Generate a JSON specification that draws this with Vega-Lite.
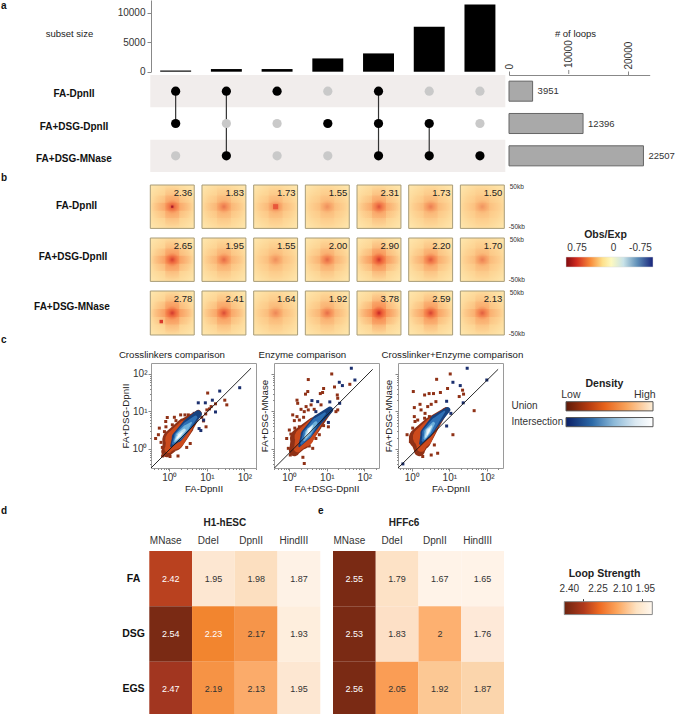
{
"$schema":"https://vega.github.io/schema/vega-lite/v6.json",
"padding":0,
"background":"white",
"bounds":"flush",
"spacing":0,
"columns":8,
"align":"each",
"resolve":{"scale":{"color":"independent","size":"independent","opacity":"independent"}},
"config":{"font":"Liberation Sans","view":{"stroke":null},"concat":{"spacing":0},"axis":{"grid":false,"labelColor":"#333","titleColor":"#222","domainColor":"#888","tickColor":"#888","labelFontSize":10,"titleFontSize":10,"titleFontWeight":"normal","labelOverlap":false,"labelFlush":false}},
"datasets":{
"sets":[{"set":"FA-DpnII"},{"set":"FA+DSG-DpnII"},{"set":"FA+DSG-MNase"}],
"subsets":[{"col":1,"count":200},{"col":2,"count":450},{"col":3,"count":450},{"col":4,"count":2250},{"col":5,"count":3100},{"col":6,"count":7600},{"col":7,"count":11400}],
"upset":[
{"col":1,"set":"FA-DpnII","on":1},{"col":1,"set":"FA+DSG-DpnII","on":1},{"col":1,"set":"FA+DSG-MNase","on":0},
{"col":2,"set":"FA-DpnII","on":1},{"col":2,"set":"FA+DSG-DpnII","on":0},{"col":2,"set":"FA+DSG-MNase","on":1},
{"col":3,"set":"FA-DpnII","on":1},{"col":3,"set":"FA+DSG-DpnII","on":0},{"col":3,"set":"FA+DSG-MNase","on":0},
{"col":4,"set":"FA-DpnII","on":0},{"col":4,"set":"FA+DSG-DpnII","on":1},{"col":4,"set":"FA+DSG-MNase","on":0},
{"col":5,"set":"FA-DpnII","on":1},{"col":5,"set":"FA+DSG-DpnII","on":1},{"col":5,"set":"FA+DSG-MNase","on":1},
{"col":6,"set":"FA-DpnII","on":0},{"col":6,"set":"FA+DSG-DpnII","on":1},{"col":6,"set":"FA+DSG-MNase","on":1},
{"col":7,"set":"FA-DpnII","on":0},{"col":7,"set":"FA+DSG-DpnII","on":0},{"col":7,"set":"FA+DSG-MNase","on":1}],
"loops":[{"set":"FA-DpnII","n":3951},{"set":"FA+DSG-DpnII","n":12396},{"set":"FA+DSG-MNase","n":22507}],
"pileA":[{"col":1,"score":2.36},{"col":2,"score":1.83},{"col":3,"score":1.73},{"col":4,"score":1.55},{"col":5,"score":2.31},{"col":6,"score":1.73},{"col":7,"score":1.50}],
"pileB":[{"col":1,"score":2.65},{"col":2,"score":1.95},{"col":3,"score":1.55},{"col":4,"score":2.00},{"col":5,"score":2.90},{"col":6,"score":2.20},{"col":7,"score":1.70}],
"pileC":[{"col":1,"score":2.78},{"col":2,"score":2.41},{"col":3,"score":1.64},{"col":4,"score":1.92},{"col":5,"score":3.78},{"col":6,"score":2.59},{"col":7,"score":2.13}],
"cloud":[
{"p":1,"level":"L0","o":1,"x":0.85,"y":0.85,"w":0.5},{"p":1,"level":"L0","o":2,"x":1.28,"y":1.74,"w":1.0},{"p":1,"level":"L0","o":3,"x":2.6,"y":3.9,"w":0.8},{"p":1,"level":"L0","o":4,"x":5.9,"y":8.9,"w":0.3},
{"p":1,"level":"L1","o":1,"x":0.95,"y":1.0,"w":0.35},{"p":1,"level":"L1","o":2,"x":1.4,"y":1.75,"w":0.88},{"p":1,"level":"L1","o":3,"x":2.6,"y":3.7,"w":0.68},{"p":1,"level":"L1","o":4,"x":5,"y":7,"w":0.2},
{"p":1,"level":"L2","o":1,"x":1.12,"y":1.2,"w":0.1},{"p":1,"level":"L2","o":2,"x":1.6,"y":2.05,"w":0.48},{"p":1,"level":"L2","o":3,"x":3,"y":4.4,"w":0.48},{"p":1,"level":"L2","o":4,"x":5.8,"y":8.5,"w":0.34},
{"p":1,"level":"L3","o":1,"x":1.25,"y":1.4,"w":0.1},{"p":1,"level":"L3","o":2,"x":1.75,"y":2.2,"w":0.4},{"p":1,"level":"L3","o":3,"x":3,"y":4.2,"w":0.38},{"p":1,"level":"L3","o":4,"x":5,"y":7,"w":0.16},
{"p":1,"level":"L4","o":1,"x":1.4,"y":1.6,"w":0.1},{"p":1,"level":"L4","o":2,"x":1.8,"y":2.3,"w":0.3},{"p":1,"level":"L4","o":3,"x":2.8,"y":3.7,"w":0.26},{"p":1,"level":"L4","o":4,"x":3.8,"y":5,"w":0.08},
{"p":1,"level":"L5","o":1,"x":1.5,"y":1.75,"w":0.08},{"p":1,"level":"L5","o":2,"x":1.85,"y":2.35,"w":0.2},{"p":1,"level":"L5","o":3,"x":2.5,"y":3.2,"w":0.14},
{"p":1,"level":"L6","o":1,"x":1.6,"y":1.9,"w":0.04},{"p":1,"level":"L6","o":2,"x":1.85,"y":2.3,"w":0.11},{"p":1,"level":"L6","o":3,"x":2.2,"y":2.75,"w":0.04},
{"p":2,"level":"L0","o":1,"x":1.36,"y":0.9,"w":0.5},{"p":2,"level":"L0","o":2,"x":2.05,"y":1.9,"w":1.0},{"p":2,"level":"L0","o":3,"x":4.6,"y":4.4,"w":0.7},{"p":2,"level":"L0","o":4,"x":12.4,"y":11,"w":0.22},
{"p":2,"level":"L1","o":1,"x":1.67,"y":1.04,"w":0.35},{"p":2,"level":"L1","o":2,"x":2.5,"y":2.05,"w":0.88},{"p":2,"level":"L1","o":3,"x":4.6,"y":4.4,"w":0.6},{"p":2,"level":"L1","o":4,"x":9.5,"y":8.9,"w":0.15},
{"p":2,"level":"L2","o":1,"x":1.85,"y":1.2,"w":0.1},{"p":2,"level":"L2","o":2,"x":2.8,"y":2.4,"w":0.5},{"p":2,"level":"L2","o":3,"x":5.7,"y":5.9,"w":0.48},{"p":2,"level":"L2","o":4,"x":12,"y":11,"w":0.3},
{"p":2,"level":"L3","o":1,"x":2.1,"y":1.4,"w":0.1},{"p":2,"level":"L3","o":2,"x":3,"y":2.5,"w":0.42},{"p":2,"level":"L3","o":3,"x":5.1,"y":5.4,"w":0.32},{"p":2,"level":"L3","o":4,"x":8.9,"y":8.9,"w":0.1},
{"p":2,"level":"L4","o":1,"x":2.5,"y":1.74,"w":0.1},{"p":2,"level":"L4","o":2,"x":3.2,"y":2.7,"w":0.3},{"p":2,"level":"L4","o":3,"x":5.1,"y":5,"w":0.14},
{"p":2,"level":"L5","o":1,"x":2.7,"y":2.05,"w":0.08},{"p":2,"level":"L5","o":2,"x":3.4,"y":3.2,"w":0.2},{"p":2,"level":"L5","o":3,"x":4.2,"y":4.2,"w":0.06},
{"p":2,"level":"L6","o":1,"x":3.1,"y":2.5,"w":0.04},{"p":2,"level":"L6","o":2,"x":3.5,"y":3.3,"w":0.1},{"p":2,"level":"L6","o":3,"x":3.9,"y":3.9,"w":0.03},
{"p":3,"level":"L0","o":1,"x":1.6,"y":0.9,"w":0.5},{"p":3,"level":"L0","o":2,"x":1.7,"y":1.9,"w":1.05},{"p":3,"level":"L0","o":3,"x":3.3,"y":4.4,"w":0.75},{"p":3,"level":"L0","o":4,"x":8.2,"y":11,"w":0.25},
{"p":3,"level":"L1","o":1,"x":1.77,"y":1.1,"w":0.4},{"p":3,"level":"L1","o":2,"x":1.96,"y":2.05,"w":0.9},{"p":3,"level":"L1","o":3,"x":3.4,"y":4.4,"w":0.62},{"p":3,"level":"L1","o":4,"x":6.6,"y":8.9,"w":0.15},
{"p":3,"level":"L2","o":1,"x":1.7,"y":1.4,"w":0.12},{"p":3,"level":"L2","o":2,"x":2.4,"y":2.6,"w":0.52},{"p":3,"level":"L2","o":3,"x":4.4,"y":5.9,"w":0.5},{"p":3,"level":"L2","o":4,"x":9,"y":11,"w":0.25},
{"p":3,"level":"L3","o":1,"x":1.96,"y":1.67,"w":0.1},{"p":3,"level":"L3","o":2,"x":2.55,"y":2.7,"w":0.44},{"p":3,"level":"L3","o":3,"x":4.2,"y":5.4,"w":0.34},{"p":3,"level":"L3","o":4,"x":7.4,"y":9.9,"w":0.08},
{"p":3,"level":"L4","o":1,"x":2.2,"y":1.9,"w":0.1},{"p":3,"level":"L4","o":2,"x":2.66,"y":2.9,"w":0.3},{"p":3,"level":"L4","o":3,"x":3.8,"y":4.8,"w":0.14},
{"p":3,"level":"L5","o":1,"x":2.35,"y":2.1,"w":0.08},{"p":3,"level":"L5","o":2,"x":2.77,"y":3.1,"w":0.2},{"p":3,"level":"L5","o":3,"x":3.4,"y":4.1,"w":0.06},
{"p":3,"level":"L6","o":1,"x":2.55,"y":2.4,"w":0.04},{"p":3,"level":"L6","o":2,"x":2.83,"y":3.1,"w":0.11},{"p":3,"level":"L6","o":3,"x":3.1,"y":3.6,"w":0.03}],
"diag":[{"p":1,"o":1,"x":0.324,"y":0.311},{"p":1,"o":2,"x":150,"y":142},{"p":2,"o":1,"x":0.4,"y":0.311},{"p":2,"o":2,"x":167,"y":133},{"p":3,"o":1,"x":0.43,"y":0.311},{"p":3,"o":2,"x":200,"y":133}],
"outliers":[
{"p":1,"t":"U","x":10.5,"y":31},{"p":1,"t":"U","x":30,"y":20},{"p":1,"t":"U","x":34,"y":15},{"p":1,"t":"U","x":17,"y":16},{"p":1,"t":"U","x":13,"y":13.5},{"p":1,"t":"U","x":11.7,"y":11.7},{"p":1,"t":"U","x":10,"y":11},{"p":1,"t":"U","x":9.3,"y":8.6},{"p":1,"t":"U","x":7.3,"y":7},{"p":1,"t":"U","x":9.5,"y":3.9},{"p":1,"t":"U","x":8.1,"y":5.6},{"p":1,"t":"U","x":0.43,"y":1.9},{"p":1,"t":"U","x":0.54,"y":3.6},{"p":1,"t":"U","x":0.51,"y":2.4},{"p":1,"t":"U","x":0.88,"y":6.9},{"p":1,"t":"U","x":1.2,"y":4.4},{"p":1,"t":"U","x":0.81,"y":3.9},{"p":1,"t":"U","x":0.74,"y":2.9},{"p":1,"t":"U","x":0.8,"y":5.4},{"p":1,"t":"U","x":2,"y":8.1},{"p":1,"t":"U","x":1.36,"y":7},{"p":1,"t":"U","x":1.5,"y":5.7},{"p":1,"t":"U","x":2.6,"y":8.1},{"p":1,"t":"U","x":3.2,"y":8.1},{"p":1,"t":"U","x":3.6,"y":1.4},{"p":1,"t":"U","x":2.9,"y":1.1},{"p":1,"t":"U","x":1.7,"y":0.65},{"p":1,"t":"U","x":1.04,"y":0.63},{"p":1,"t":"U","x":0.65,"y":1.1},{"p":1,"t":"U","x":0.6,"y":1.5},{"p":1,"t":"U","x":0.66,"y":0.65},
{"p":1,"t":"I","x":22,"y":35},{"p":1,"t":"I","x":75,"y":43},{"p":1,"t":"I","x":5.9,"y":17},{"p":1,"t":"I","x":9.1,"y":17},{"p":1,"t":"I","x":14,"y":20},{"p":1,"t":"I","x":17,"y":9.7},{"p":1,"t":"I","x":8.2,"y":5.9},{"p":1,"t":"I","x":6.2,"y":3.5},{"p":1,"t":"I","x":6.9,"y":3.1},{"p":1,"t":"I","x":4.6,"y":8.9},
{"p":2,"t":"U","x":13.5,"y":100},{"p":2,"t":"U","x":3.2,"y":71},{"p":2,"t":"U","x":8.2,"y":41},{"p":2,"t":"U","x":16,"y":45},{"p":2,"t":"U","x":41,"y":53},{"p":2,"t":"U","x":2.7,"y":29},{"p":2,"t":"U","x":3.1,"y":34},{"p":2,"t":"U","x":6.7,"y":30},{"p":2,"t":"U","x":7.7,"y":32},{"p":2,"t":"U","x":19,"y":27.5},{"p":2,"t":"U","x":19.5,"y":22.5},{"p":2,"t":"U","x":1.6,"y":20},{"p":2,"t":"U","x":1.67,"y":16.5},{"p":2,"t":"U","x":2.8,"y":13.5},{"p":2,"t":"U","x":3.8,"y":15},{"p":2,"t":"U","x":7,"y":15},{"p":2,"t":"U","x":4.6,"y":11.4},{"p":2,"t":"U","x":2.05,"y":11.4},{"p":2,"t":"U","x":2.5,"y":9.9},{"p":2,"t":"U","x":3.2,"y":11},{"p":2,"t":"U","x":1.23,"y":8.1},{"p":2,"t":"U","x":1.6,"y":7.3},{"p":2,"t":"U","x":1.36,"y":5.7},{"p":2,"t":"U","x":1.85,"y":5.9},{"p":2,"t":"U","x":2.4,"y":7},{"p":2,"t":"U","x":17.5,"y":9.9},{"p":2,"t":"U","x":19.5,"y":11},{"p":2,"t":"U","x":11,"y":3.9},{"p":2,"t":"U","x":8.2,"y":4.2},{"p":2,"t":"U","x":5.1,"y":1.9},{"p":2,"t":"U","x":6.3,"y":2.4},{"p":2,"t":"U","x":1,"y":3.2},{"p":2,"t":"U","x":1.1,"y":2.5},{"p":2,"t":"U","x":0.85,"y":1.9},{"p":2,"t":"U","x":0.94,"y":1.04},{"p":2,"t":"U","x":1.06,"y":0.69},{"p":2,"t":"U","x":2.3,"y":0.6},{"p":2,"t":"U","x":2.5,"y":0.41},{"p":2,"t":"U","x":4.2,"y":1.04},{"p":2,"t":"U","x":3.4,"y":1.2},{"p":2,"t":"U","x":1.85,"y":3.9},{"p":2,"t":"U","x":1.4,"y":3.6},
{"p":2,"t":"I","x":45,"y":142},{"p":2,"t":"I","x":56,"y":69},{"p":2,"t":"I","x":21.5,"y":60},{"p":2,"t":"I","x":26,"y":49},{"p":2,"t":"I","x":22,"y":16.5},{"p":2,"t":"I","x":12,"y":18},{"p":2,"t":"I","x":4,"y":19.5},{"p":2,"t":"I","x":5.7,"y":18.3},{"p":2,"t":"I","x":5.1,"y":9.9},{"p":2,"t":"I","x":11,"y":5.1},
{"p":3,"t":"U","x":10.6,"y":100},{"p":3,"t":"U","x":4.6,"y":72},{"p":3,"t":"U","x":9,"y":41},{"p":3,"t":"U","x":1.1,"y":34},{"p":3,"t":"U","x":22.6,"y":37},{"p":3,"t":"U","x":24,"y":29},{"p":3,"t":"U","x":18.4,"y":25},{"p":3,"t":"U","x":2.2,"y":27.5},{"p":3,"t":"U","x":2.9,"y":30},{"p":3,"t":"U","x":3.8,"y":30},{"p":3,"t":"U","x":5.8,"y":32},{"p":3,"t":"U","x":1.66,"y":15.5},{"p":3,"t":"U","x":1.17,"y":12.7},{"p":3,"t":"U","x":4.4,"y":18.3},{"p":3,"t":"U","x":3.3,"y":15.5},{"p":3,"t":"U","x":2.66,"y":13.5},{"p":3,"t":"U","x":1.77,"y":11},{"p":3,"t":"U","x":2.26,"y":8.9},{"p":3,"t":"U","x":1.22,"y":5.4},{"p":3,"t":"U","x":1.44,"y":5.9},{"p":3,"t":"U","x":1.17,"y":7.3},{"p":3,"t":"U","x":2.2,"y":6.6},{"p":3,"t":"U","x":2.95,"y":7.3},{"p":3,"t":"U","x":1.06,"y":3.6},{"p":3,"t":"U","x":0.75,"y":2.4},{"p":3,"t":"U","x":0.92,"y":1.57},{"p":3,"t":"U","x":46,"y":10.5},{"p":3,"t":"U","x":12.5,"y":2.4},{"p":3,"t":"U","x":4.9,"y":0.77},{"p":3,"t":"U","x":4,"y":1.28},{"p":3,"t":"U","x":3.3,"y":0.69},{"p":3,"t":"U","x":1.96,"y":0.63},{"p":3,"t":"U","x":7.4,"y":11},
{"p":3,"t":"I","x":30,"y":142},{"p":3,"t":"I","x":100,"y":69},{"p":3,"t":"I","x":12.5,"y":60},{"p":3,"t":"I","x":19.6,"y":49},{"p":3,"t":"I","x":23.5,"y":17},{"p":3,"t":"I","x":8.5,"y":18.7},{"p":3,"t":"I","x":11,"y":8.9},{"p":3,"t":"I","x":8.5,"y":4.1},{"p":3,"t":"I","x":0.58,"y":0.4}],
"hesc":[{"row":"FA","col":"MNase","v":2.42},{"row":"FA","col":"DdeI","v":1.95},{"row":"FA","col":"DpnII","v":1.98},{"row":"FA","col":"HindIII","v":1.87},{"row":"DSG","col":"MNase","v":2.54},{"row":"DSG","col":"DdeI","v":2.23},{"row":"DSG","col":"DpnII","v":2.17},{"row":"DSG","col":"HindIII","v":1.93},{"row":"EGS","col":"MNase","v":2.47},{"row":"EGS","col":"DdeI","v":2.19},{"row":"EGS","col":"DpnII","v":2.13},{"row":"EGS","col":"HindIII","v":1.95}],
"hff":[{"row":"FA","col":"MNase","v":2.55},{"row":"FA","col":"DdeI","v":1.79},{"row":"FA","col":"DpnII","v":1.67},{"row":"FA","col":"HindIII","v":1.65},{"row":"DSG","col":"MNase","v":2.53},{"row":"DSG","col":"DdeI","v":1.83},{"row":"DSG","col":"DpnII","v":2},{"row":"DSG","col":"HindIII","v":1.76},{"row":"EGS","col":"MNase","v":2.56},{"row":"EGS","col":"DdeI","v":2.05},{"row":"EGS","col":"DpnII","v":1.92},{"row":"EGS","col":"HindIII","v":1.87}]
},
"concat":[
 {"width":150,"height":71.7,"data":{"values":[{"label":"a"}]},"mark":{"type":"text","align":"left","baseline":"top","fontWeight":"bold","fontSize":10,"dx":1,"dy":1,"color":"#111"},"encoding":{"text":{"field":"label"},"x":{"datum":0,"type":"quantitative","scale":{"domain":[0,1]},"axis":null},"y":{"datum":0,"type":"quantitative","scale":{"domain":[1,0]},"axis":null}}},
 {"width":105,"height":71.7,"data":{"name":"subsets"},"mark":{"type":"bar","color":"#000"},"encoding":{
   "x":{"field":"col","type":"ordinal","axis":null,"scale":{"range":[-0.7,354.3],"paddingInner":0.39,"paddingOuter":0.195}},
   "y":{"field":"count","type":"quantitative","scale":{"domain":[0,12153],"nice":false},"axis":{"values":[0,5000,10000],"format":"d","labelOverlap":false,"tickSize":4,"labelPadding":2,"title":"subset  size","titleAngle":0,"titleX":-82,"titleY":33,"titleAlign":"center","titleBaseline":"middle","titleFontSize":9.5}}}},
 {"width":0.001,"height":0.001,"data":{"values":[]},"mark":"text"},{"width":0.001,"height":0.001,"data":{"values":[]},"mark":"text"},{"width":0.001,"height":0.001,"data":{"values":[]},"mark":"text"},{"width":0.001,"height":0.001,"data":{"values":[]},"mark":"text"},
 {"width":60,"height":71.7,"data":{"values":[{"v":10000}]},"encoding":{"x":{"field":"v","type":"quantitative","scale":{"domain":[0,23550],"nice":false,"range":[6,146.7]},"axis":null}},"layer":[
  {"mark":{"type":"rule","color":"#888"},"encoding":{"y":{"datum":-0.032,"type":"quantitative","scale":{"domain":[0,1],"nice":false},"axis":null},"y2":{"datum":0.024}}},
  {"mark":{"type":"text","angle":270,"align":"left","baseline":"middle","fontSize":10,"color":"#333"},"encoding":{"y":{"datum":0.05},"text":{"field":"v","type":"quantitative","format":"d"}}}
 ]},
 {"width":0.001,"height":0.001,"data":{"values":[]},"mark":"text"},

 {"width":1,"height":2.3,"data":{"values":[]},"mark":"text"},
 {"width":0.001,"height":0.001,"data":{"values":[]},"mark":"text"},{"width":0.001,"height":0.001,"data":{"values":[]},"mark":"text"},{"width":0.001,"height":0.001,"data":{"values":[]},"mark":"text"},{"width":0.001,"height":0.001,"data":{"values":[]},"mark":"text"},{"width":0.001,"height":0.001,"data":{"values":[]},"mark":"text"},{"width":0.001,"height":0.001,"data":{"values":[]},"mark":"text"},{"width":0.001,"height":0.001,"data":{"values":[]},"mark":"text"},

 {"width":150,"height":97,"data":{"name":"sets"},"mark":{"type":"text","fontWeight":"bold","fontSize":10,"color":"#111","dy":3},"encoding":{"text":{"field":"set"},"x":{"datum":0.493,"type":"quantitative","scale":{"domain":[0,1]},"axis":null},"y":{"field":"set","type":"nominal","axis":null,"scale":{"domain":["FA-DpnII","FA+DSG-DpnII","FA+DSG-MNase"]}}}},
 {"width":105,"height":97,"layer":[
  {"data":{"values":[{"set":"FA-DpnII","col":4},{"set":"FA+DSG-MNase","col":4}]},"mark":{"type":"rect","color":"#f1edec","width":355},"encoding":{"x":{"field":"col","type":"ordinal","axis":null,"scale":{"range":[-0.7,354.3],"paddingInner":0.39,"paddingOuter":0.195}},"y":{"field":"set","type":"nominal","axis":null,"scale":{"domain":["FA-DpnII","FA+DSG-DpnII","FA+DSG-MNase"],"padding":0}}}},
  {"data":{"name":"upset"},"transform":[{"filter":"datum.on===1"}],"mark":{"type":"line","color":"#333","strokeWidth":1.2},"encoding":{"x":{"field":"col","type":"ordinal","axis":null},"y":{"field":"set","type":"nominal","axis":null,"sort":null},"detail":{"field":"col"}}},
  {"data":{"name":"upset"},"mark":{"type":"circle","opacity":1,"size":85},"encoding":{"x":{"field":"col","type":"ordinal","axis":null},"y":{"field":"set","type":"nominal","axis":null},"color":{"field":"on","type":"nominal","scale":{"domain":[0,1],"range":["#c9c9c9","#000000"]},"legend":null}}}
 ]},
 {"width":0.001,"height":0.001,"data":{"values":[]},"mark":"text"},{"width":0.001,"height":0.001,"data":{"values":[]},"mark":"text"},{"width":0.001,"height":0.001,"data":{"values":[]},"mark":"text"},{"width":0.001,"height":0.001,"data":{"values":[]},"mark":"text"},
 {"width":60,"height":97,"data":{"name":"loops"},"layer":[
  {"mark":{"type":"bar","color":"#a9a9a9","stroke":"#666","strokeWidth":1},"encoding":{
    "x":{"field":"n","type":"quantitative","scale":{"domain":[0,23550],"nice":false,"range":[6,146.7]},"axis":{"orient":"top","values":[0,10000,20000],"format":"d","labelOverlap":false,"labelBound":false,"labelAngle":-90,"tickSize":4,"labelPadding":2,"title":"# of loops","titlePadding":3,"titleX":72,"titleFontSize":9.5}},
    "y":{"field":"set","type":"nominal","axis":null,"scale":{"domain":["FA-DpnII","FA+DSG-DpnII","FA+DSG-MNase"],"paddingInner":0.38,"paddingOuter":0.19}}}},
  {"mark":{"type":"text","align":"left","dx":5,"fontSize":9.5,"color":"#333"},"encoding":{"x":{"field":"n","type":"quantitative"},"y":{"field":"set","type":"nominal","axis":null},"text":{"field":"n","type":"quantitative","format":"d"}}}
 ]},
 {"width":0.001,"height":0.001,"data":{"values":[]},"mark":"text"},

 {"width":60,"height":12.3,"data":{"values":[{"label":"b"}]},"mark":{"type":"text","align":"left","baseline":"middle","fontWeight":"bold","fontSize":10,"dx":1,"color":"#111"},"encoding":{"text":{"field":"label"},"x":{"datum":0,"type":"quantitative","scale":{"domain":[0,1]},"axis":null},"y":{"datum":0.5,"type":"quantitative","scale":{"domain":[1,0]},"axis":null}}},
 {"width":0.001,"height":0.001,"data":{"values":[]},"mark":"text"},{"width":0.001,"height":0.001,"data":{"values":[]},"mark":"text"},{"width":0.001,"height":0.001,"data":{"values":[]},"mark":"text"},{"width":0.001,"height":0.001,"data":{"values":[]},"mark":"text"},{"width":0.001,"height":0.001,"data":{"values":[]},"mark":"text"},{"width":0.001,"height":0.001,"data":{"values":[]},"mark":"text"},{"width":0.001,"height":0.001,"data":{"values":[]},"mark":"text"},

 {"width":150,"height":43.4,"data":{"values":[{"label":"FA-DpnII"}]},"mark":{"type":"text","fontWeight":"bold","fontSize":10,"color":"#111"},"encoding":{"text":{"field":"label"},"x":{"datum":0.51,"type":"quantitative","scale":{"domain":[0,1]},"axis":null},"y":{"datum":0.477,"type":"quantitative","scale":{"domain":[1,0]},"axis":null}}},
 {"width":105,"height":43.4,"data":{"name":"pileA"},"encoding":{"x":{"field":"col","type":"ordinal","axis":null,"scale":{"range":[-0.7,353.3],"paddingInner":0.15,"paddingOuter":0}}},"layer":[
  {"mark":{"type":"bar","stroke":"#a89c78","strokeWidth":1,"fill":{"gradient":"radial","x1":0.5,"y1":0.5,"r1":0,"x2":0.5,"y2":0.5,"r2":0.72,"stops":[{"offset":0,"color":"#fcc884"},{"offset":0.55,"color":"#fdd696"},{"offset":1,"color":"#fee9b0"}]}},"encoding":{"y":{"datum":-54,"type":"quantitative","scale":{"domain":[-54,54],"nice":false},"axis":{"orient":"right","offset":248.3,"values":[50,0,-50],"labelOverlap":false,"labelExpr":"datum.value===0?'0':datum.value>0?'50kb':'-50kb'","domain":false,"ticks":false,"labelFontSize":6.5,"labelAlign":"center","labelPadding":12,"title":null}},"y2":{"datum":54}}},
  {"mark":{"type":"bar","width":44,"fill":{"gradient":"radial","x1":0.5,"y1":0.5,"r1":0,"x2":0.5,"y2":0.5,"r2":0.5,"stops":[{"offset":0,"color":"rgba(247,125,65,0.55)"},{"offset":1,"color":"rgba(247,125,65,0)"}]}},"encoding":{"y":{"datum":-28},"y2":{"datum":28},"opacity":{"field":"score","type":"quantitative","scale":{"domain":[1.5,3.2],"range":[0.2,1]},"legend":null}}},
  {"mark":{"type":"bar","fill":{"gradient":"radial","x1":0.5,"y1":0.5,"r1":0,"x2":0.5,"y2":0.5,"r2":0.5,"stops":[{"offset":0,"color":"rgba(245,115,60,0.65)"},{"offset":1,"color":"rgba(245,115,60,0)"}]}},"encoding":{"y":{"datum":-10},"y2":{"datum":10},"opacity":{"field":"score","type":"quantitative","scale":{"domain":[1.5,3.2],"range":[0.2,1]},"legend":null}}},
  {"mark":{"type":"bar","width":14,"fill":{"gradient":"radial","x1":0.5,"y1":0.5,"r1":0,"x2":0.5,"y2":0.5,"r2":0.5,"stops":[{"offset":0,"color":"rgba(245,115,60,0.65)"},{"offset":1,"color":"rgba(245,115,60,0)"}]}},"encoding":{"y":{"datum":-54},"y2":{"datum":54},"opacity":{"field":"score","type":"quantitative","scale":{"domain":[1.5,3.2],"range":[0.2,1]},"legend":null}}},
  {"mark":{"type":"bar","width":14,"fill":{"gradient":"radial","x1":0.5,"y1":0.5,"r1":0,"x2":0.5,"y2":0.5,"r2":0.5,"stops":[{"offset":0,"color":"rgba(190,25,35,0.9)"},{"offset":0.5,"color":"rgba(225,60,40,0.45)"},{"offset":1,"color":"rgba(225,60,40,0)"}]}},"encoding":{"y":{"datum":-17},"y2":{"datum":17},"opacity":{"field":"score","type":"quantitative","scale":{"domain":[1.5,3.2],"range":[0.2,1]},"legend":null}}},
  {"transform":[{"filter":"datum.col===3"}],"mark":{"type":"square","size":26,"color":"#e8573a","opacity":1},"encoding":{"y":{"datum":0}}},
  {"transform":[{"filter":"datum.col===1"}],"mark":{"type":"square","size":5,"color":"#a81a28","opacity":1},"encoding":{"y":{"datum":0}}},
  {"mark":{"type":"text","align":"right","dx":20,"fontSize":9.5,"color":"#222"},"encoding":{"y":{"datum":34},"text":{"field":"score","type":"quantitative","format":".2f"}}}
 ]},
 {"width":0.001,"height":0.001,"data":{"values":[]},"mark":"text"},{"width":0.001,"height":0.001,"data":{"values":[]},"mark":"text"},{"width":0.001,"height":0.001,"data":{"values":[]},"mark":"text"},{"width":0.001,"height":0.001,"data":{"values":[]},"mark":"text"},{"width":0.001,"height":0.001,"data":{"values":[]},"mark":"text"},{"width":0.001,"height":0.001,"data":{"values":[]},"mark":"text"},

 {"width":1,"height":8.6,"data":{"values":[]},"mark":"text"},
 {"width":0.001,"height":0.001,"data":{"values":[]},"mark":"text"},{"width":0.001,"height":0.001,"data":{"values":[]},"mark":"text"},{"width":0.001,"height":0.001,"data":{"values":[]},"mark":"text"},{"width":0.001,"height":0.001,"data":{"values":[]},"mark":"text"},{"width":0.001,"height":0.001,"data":{"values":[]},"mark":"text"},{"width":0.001,"height":0.001,"data":{"values":[]},"mark":"text"},{"width":0.001,"height":0.001,"data":{"values":[]},"mark":"text"},

 {"width":150,"height":43.4,"data":{"values":[{"label":"FA+DSG-DpnII"}]},"mark":{"type":"text","fontWeight":"bold","fontSize":10,"color":"#111"},"encoding":{"text":{"field":"label"},"x":{"datum":0.487,"type":"quantitative","scale":{"domain":[0,1]},"axis":null},"y":{"datum":0.43,"type":"quantitative","scale":{"domain":[1,0]},"axis":null}}},
 {"width":105,"height":43.4,"data":{"name":"pileB"},"encoding":{"x":{"field":"col","type":"ordinal","axis":null,"scale":{"range":[-0.7,353.3],"paddingInner":0.15,"paddingOuter":0}}},"layer":[
  {"mark":{"type":"bar","stroke":"#a89c78","strokeWidth":1,"fill":{"gradient":"radial","x1":0.5,"y1":0.5,"r1":0,"x2":0.5,"y2":0.5,"r2":0.72,"stops":[{"offset":0,"color":"#fcc884"},{"offset":0.55,"color":"#fdd696"},{"offset":1,"color":"#fee9b0"}]}},"encoding":{"y":{"datum":-54,"type":"quantitative","scale":{"domain":[-54,54],"nice":false},"axis":{"orient":"right","offset":248.3,"values":[50,0,-50],"labelOverlap":false,"labelExpr":"datum.value===0?'0':datum.value>0?'50kb':'-50kb'","domain":false,"ticks":false,"labelFontSize":6.5,"labelAlign":"center","labelPadding":12,"title":null}},"y2":{"datum":54}}},
  {"mark":{"type":"bar","width":44,"fill":{"gradient":"radial","x1":0.5,"y1":0.5,"r1":0,"x2":0.5,"y2":0.5,"r2":0.5,"stops":[{"offset":0,"color":"rgba(247,125,65,0.55)"},{"offset":1,"color":"rgba(247,125,65,0)"}]}},"encoding":{"y":{"datum":-28},"y2":{"datum":28},"opacity":{"field":"score","type":"quantitative","scale":{"domain":[1.5,3.2],"range":[0.2,1]},"legend":null}}},
  {"mark":{"type":"bar","fill":{"gradient":"radial","x1":0.5,"y1":0.5,"r1":0,"x2":0.5,"y2":0.5,"r2":0.5,"stops":[{"offset":0,"color":"rgba(245,115,60,0.65)"},{"offset":1,"color":"rgba(245,115,60,0)"}]}},"encoding":{"y":{"datum":-10},"y2":{"datum":10},"opacity":{"field":"score","type":"quantitative","scale":{"domain":[1.5,3.2],"range":[0.2,1]},"legend":null}}},
  {"mark":{"type":"bar","width":14,"fill":{"gradient":"radial","x1":0.5,"y1":0.5,"r1":0,"x2":0.5,"y2":0.5,"r2":0.5,"stops":[{"offset":0,"color":"rgba(245,115,60,0.65)"},{"offset":1,"color":"rgba(245,115,60,0)"}]}},"encoding":{"y":{"datum":-54},"y2":{"datum":54},"opacity":{"field":"score","type":"quantitative","scale":{"domain":[1.5,3.2],"range":[0.2,1]},"legend":null}}},
  {"mark":{"type":"bar","width":14,"fill":{"gradient":"radial","x1":0.5,"y1":0.5,"r1":0,"x2":0.5,"y2":0.5,"r2":0.5,"stops":[{"offset":0,"color":"rgba(190,25,35,0.9)"},{"offset":0.5,"color":"rgba(225,60,40,0.45)"},{"offset":1,"color":"rgba(225,60,40,0)"}]}},"encoding":{"y":{"datum":-17},"y2":{"datum":17},"opacity":{"field":"score","type":"quantitative","scale":{"domain":[1.5,3.2],"range":[0.2,1]},"legend":null}}},
  {"mark":{"type":"text","align":"right","dx":20,"fontSize":9.5,"color":"#222"},"encoding":{"y":{"datum":34},"text":{"field":"score","type":"quantitative","format":".2f"}}}
 ]},
 {"width":0.001,"height":0.001,"data":{"values":[]},"mark":"text"},{"width":0.001,"height":0.001,"data":{"values":[]},"mark":"text"},{"width":0.001,"height":0.001,"data":{"values":[]},"mark":"text"},{"width":0.001,"height":0.001,"data":{"values":[]},"mark":"text"},{"width":0.001,"height":0.001,"data":{"values":[]},"mark":"text"},
 {"width":87,"height":43.4,"data":{"values":[{"lo":1,"hi":-1.2}]},"mark":{"type":"rect","stroke":"#ddd","strokeWidth":0.5,"fill":{"gradient":"linear","x1":0,"y1":0,"x2":1,"y2":0,"stops":[{"offset":0,"color":"#7f0a0f"},{"offset":0.12,"color":"#cf2a1f"},{"offset":0.28,"color":"#f88b3a"},{"offset":0.42,"color":"#fee08b"},{"offset":0.52,"color":"#fdf9c0"},{"offset":0.66,"color":"#c9e3e8"},{"offset":0.82,"color":"#5f8fb8"},{"offset":1,"color":"#17237a"}]}},"encoding":{
    "x":{"field":"lo","type":"quantitative","scale":{"domain":[1,0.75,0,-0.75,-1.2],"range":[0,10.6,47,74,87]},"axis":{"orient":"top","offset":-19,"values":[0.75,0,-0.75],"labelOverlap":false,"labelExpr":"datum.value===0?'0':datum.value>0?'0.75':'-0.75'","domain":false,"ticks":false,"labelPadding":5,"labelFontSize":10,"title":"Obs/Exp","titleFontWeight":"bold","titleFontSize":10.5,"titlePadding":3,"titleX":39}},
    "x2":{"field":"hi"},"y":{"datum":0.438,"type":"quantitative","scale":{"domain":[1,0]},"axis":null},"y2":{"datum":0.668}}},

 {"width":1,"height":9,"data":{"values":[]},"mark":"text"},
 {"width":0.001,"height":0.001,"data":{"values":[]},"mark":"text"},{"width":0.001,"height":0.001,"data":{"values":[]},"mark":"text"},{"width":0.001,"height":0.001,"data":{"values":[]},"mark":"text"},{"width":0.001,"height":0.001,"data":{"values":[]},"mark":"text"},{"width":0.001,"height":0.001,"data":{"values":[]},"mark":"text"},{"width":0.001,"height":0.001,"data":{"values":[]},"mark":"text"},{"width":0.001,"height":0.001,"data":{"values":[]},"mark":"text"},

 {"width":150,"height":44,"data":{"values":[{"label":"FA+DSG-MNase"}]},"mark":{"type":"text","fontWeight":"bold","fontSize":10,"color":"#111"},"encoding":{"text":{"field":"label"},"x":{"datum":0.48,"type":"quantitative","scale":{"domain":[0,1]},"axis":null},"y":{"datum":0.37,"type":"quantitative","scale":{"domain":[1,0]},"axis":null}}},
 {"width":105,"height":44,"data":{"name":"pileC"},"encoding":{"x":{"field":"col","type":"ordinal","axis":null,"scale":{"range":[-0.7,353.3],"paddingInner":0.15,"paddingOuter":0}}},"layer":[
  {"mark":{"type":"bar","stroke":"#a89c78","strokeWidth":1,"fill":{"gradient":"radial","x1":0.5,"y1":0.5,"r1":0,"x2":0.5,"y2":0.5,"r2":0.72,"stops":[{"offset":0,"color":"#fcc884"},{"offset":0.55,"color":"#fdd696"},{"offset":1,"color":"#fee9b0"}]}},"encoding":{"y":{"datum":-54,"type":"quantitative","scale":{"domain":[-54,54],"nice":false},"axis":{"orient":"right","offset":248.3,"values":[50,0,-50],"labelOverlap":false,"labelExpr":"datum.value===0?'0':datum.value>0?'50kb':'-50kb'","domain":false,"ticks":false,"labelFontSize":6.5,"labelAlign":"center","labelPadding":12,"title":null}},"y2":{"datum":54}}},
  {"mark":{"type":"bar","width":44,"fill":{"gradient":"radial","x1":0.5,"y1":0.5,"r1":0,"x2":0.5,"y2":0.5,"r2":0.5,"stops":[{"offset":0,"color":"rgba(247,125,65,0.55)"},{"offset":1,"color":"rgba(247,125,65,0)"}]}},"encoding":{"y":{"datum":-28},"y2":{"datum":28},"opacity":{"field":"score","type":"quantitative","scale":{"domain":[1.5,3.2],"range":[0.2,1]},"legend":null}}},
  {"mark":{"type":"bar","fill":{"gradient":"radial","x1":0.5,"y1":0.5,"r1":0,"x2":0.5,"y2":0.5,"r2":0.5,"stops":[{"offset":0,"color":"rgba(245,115,60,0.65)"},{"offset":1,"color":"rgba(245,115,60,0)"}]}},"encoding":{"y":{"datum":-10},"y2":{"datum":10},"opacity":{"field":"score","type":"quantitative","scale":{"domain":[1.5,3.2],"range":[0.2,1]},"legend":null}}},
  {"mark":{"type":"bar","width":14,"fill":{"gradient":"radial","x1":0.5,"y1":0.5,"r1":0,"x2":0.5,"y2":0.5,"r2":0.5,"stops":[{"offset":0,"color":"rgba(245,115,60,0.65)"},{"offset":1,"color":"rgba(245,115,60,0)"}]}},"encoding":{"y":{"datum":-54},"y2":{"datum":54},"opacity":{"field":"score","type":"quantitative","scale":{"domain":[1.5,3.2],"range":[0.2,1]},"legend":null}}},
  {"mark":{"type":"bar","width":14,"fill":{"gradient":"radial","x1":0.5,"y1":0.5,"r1":0,"x2":0.5,"y2":0.5,"r2":0.5,"stops":[{"offset":0,"color":"rgba(190,25,35,0.9)"},{"offset":0.5,"color":"rgba(225,60,40,0.45)"},{"offset":1,"color":"rgba(225,60,40,0)"}]}},"encoding":{"y":{"datum":-17},"y2":{"datum":17},"opacity":{"field":"score","type":"quantitative","scale":{"domain":[1.5,3.2],"range":[0.2,1]},"legend":null}}},
  {"transform":[{"filter":"datum.col===1"}],"mark":{"type":"square","size":12,"color":"#d8382c","opacity":1,"xOffset":-11},"encoding":{"y":{"datum":-21}}},
  {"mark":{"type":"text","align":"right","dx":20,"fontSize":9.5,"color":"#222"},"encoding":{"y":{"datum":34},"text":{"field":"score","type":"quantitative","format":".2f"}}}
 ]},
 {"width":0.001,"height":0.001,"data":{"values":[]},"mark":"text"},{"width":0.001,"height":0.001,"data":{"values":[]},"mark":"text"},{"width":0.001,"height":0.001,"data":{"values":[]},"mark":"text"},{"width":0.001,"height":0.001,"data":{"values":[]},"mark":"text"},{"width":0.001,"height":0.001,"data":{"values":[]},"mark":"text"},{"width":0.001,"height":0.001,"data":{"values":[]},"mark":"text"},

 {"width":60,"height":27.3,"data":{"values":[{"label":"c"}]},"mark":{"type":"text","align":"left","baseline":"top","fontWeight":"bold","fontSize":10,"dx":1,"color":"#111"},"encoding":{"text":{"field":"label"},"x":{"datum":0,"type":"quantitative","scale":{"domain":[0,1]},"axis":null},"y":{"datum":0,"type":"quantitative","scale":{"domain":[1,0]},"axis":null}}},
 {"width":0.001,"height":0.001,"data":{"values":[]},"mark":"text"},{"width":0.001,"height":0.001,"data":{"values":[]},"mark":"text"},{"width":0.001,"height":0.001,"data":{"values":[]},"mark":"text"},{"width":0.001,"height":0.001,"data":{"values":[]},"mark":"text"},{"width":0.001,"height":0.001,"data":{"values":[]},"mark":"text"},{"width":0.001,"height":0.001,"data":{"values":[]},"mark":"text"},{"width":0.001,"height":0.001,"data":{"values":[]},"mark":"text"},

 {"width":150.7,"height":105,"data":{"values":[]},"mark":"text"},
 {"width":105,"height":105,"view":{"stroke":"#9a9a9a"},"title":{"text":"Crosslinkers comparison","anchor":"start","fontSize":9.7,"fontWeight":"normal","color":"#222","offset":3,"dx":-2},
  "encoding":{
   "x":{"field":"x","type":"quantitative","scale":{"type":"log","domain":[0.324,204],"nice":false},"axis":{"values":[0.4,0.5,0.6,0.7,0.8,0.9,1,2,3,4,5,6,7,8,9,10,20,30,40,50,60,70,80,90,100,200],"labelOverlap":false,"labelExpr":"datum.value===1?'10⁰':datum.value===10?'10¹':datum.value===100?'10²':''","tickSize":{"condition":{"test":"datum.value===1||datum.value===10||datum.value===100","value":3},"value":1.5},"domain":false,"labelPadding":1,"title":"FA-DpnII","titleFontSize":9.7,"titlePadding":1}},
   "y":{"field":"y","type":"quantitative","scale":{"type":"log","domain":[0.311,196],"nice":false},"axis":{"values":[0.4,0.5,0.6,0.7,0.8,0.9,1,2,3,4,5,6,7,8,9,10,20,30,40,50,60,70,80,90,100],"labelOverlap":false,"labelExpr":"datum.value===1?'10⁰':datum.value===10?'10¹':datum.value===100?'10²':''","tickSize":{"condition":{"test":"datum.value===1||datum.value===10||datum.value===100","value":3},"value":1.5},"domain":false,"labelPadding":1,"title":"FA+DSG-DpnII","titleFontSize":9.7,"titlePadding":1}}},
  "layer":[
   {"data":{"name":"outliers"},"transform":[{"filter":"datum.p===1"}],"mark":{"type":"square","size":9,"opacity":1},"encoding":{"color":{"field":"t","type":"nominal","scale":{"domain":["U","I"],"range":["#8f3116","#1b2f6e"]},"legend":null}}},
   {"data":{"name":"cloud"},"transform":[{"filter":"datum.p===1"}],"mark":{"type":"trail"},"encoding":{"order":{"field":"o"},"size":{"field":"w","type":"quantitative","scale":{"domain":[0,1],"range":[0,22]},"legend":null},"color":{"field":"level","type":"nominal","scale":{"domain":["L0","L1","L2","L3","L4","L5","L6"],"range":["#8f3116","#cc4a1c","#16417f","#2e70b5","#6db0db","#bfe0f0","#f4fafc"]},"legend":null}}},
   {"data":{"name":"diag"},"transform":[{"filter":"datum.p===1"}],"mark":{"type":"line","color":"#111","strokeWidth":0.9},"encoding":{"order":{"field":"o"}}}
  ],"resolve":{"scale":{"color":"independent"}}},
 {"width":17.3,"height":105,"data":{"values":[]},"mark":"text"},
 {"width":105,"height":105,"view":{"stroke":"#9a9a9a"},"title":{"text":"Enzyme comparison","anchor":"start","fontSize":9.7,"fontWeight":"normal","color":"#222","offset":3,"dx":-1},
  "encoding":{
   "x":{"field":"x","type":"quantitative","scale":{"type":"log","domain":[0.39,246],"nice":false},"axis":{"values":[0.4,0.5,0.6,0.7,0.8,0.9,1,2,3,4,5,6,7,8,9,10,20,30,40,50,60,70,80,90,100,200],"labelOverlap":false,"labelExpr":"datum.value===1?'10⁰':datum.value===10?'10¹':datum.value===100?'10²':''","tickSize":{"condition":{"test":"datum.value===1||datum.value===10||datum.value===100","value":3},"value":1.5},"domain":false,"labelPadding":1,"title":"FA+DSG-DpnII","titleFontSize":9.7,"titlePadding":1}},
   "y":{"field":"y","type":"quantitative","scale":{"type":"log","domain":[0.311,196],"nice":false},"axis":{"values":[0.4,0.5,0.6,0.7,0.8,0.9,1,2,3,4,5,6,7,8,9,10,20,30,40,50,60,70,80,90,100],"labels":false,"tickSize":{"condition":{"test":"datum.value===1||datum.value===10||datum.value===100","value":3},"value":1.5},"domain":false,"title":"FA+DSG-MNase","titleFontSize":9.7,"titlePadding":1}}},
  "layer":[
   {"data":{"name":"outliers"},"transform":[{"filter":"datum.p===2"}],"mark":{"type":"square","size":9,"opacity":1},"encoding":{"color":{"field":"t","type":"nominal","scale":{"domain":["U","I"],"range":["#8f3116","#1b2f6e"]},"legend":null}}},
   {"data":{"name":"cloud"},"transform":[{"filter":"datum.p===2"}],"mark":{"type":"trail"},"encoding":{"order":{"field":"o"},"size":{"field":"w","type":"quantitative","scale":{"domain":[0,1],"range":[0,22]},"legend":null},"color":{"field":"level","type":"nominal","scale":{"domain":["L0","L1","L2","L3","L4","L5","L6"],"range":["#8f3116","#cc4a1c","#16417f","#2e70b5","#6db0db","#bfe0f0","#f4fafc"]},"legend":null}}},
   {"data":{"name":"diag"},"transform":[{"filter":"datum.p===2"}],"mark":{"type":"line","color":"#111","strokeWidth":0.9},"encoding":{"order":{"field":"o"}}}
  ],"resolve":{"scale":{"color":"independent"}}},
 {"width":19,"height":105,"data":{"values":[]},"mark":"text"},
 {"width":105,"height":105,"view":{"stroke":"#9a9a9a"},"title":{"text":"Crosslinker+Enzyme comparison","anchor":"start","fontSize":9.7,"fontWeight":"normal","color":"#222","offset":3,"dx":-2},
  "encoding":{
   "x":{"field":"x","type":"quantitative","scale":{"type":"log","domain":[0.43,270],"nice":false},"axis":{"values":[0.5,0.6,0.7,0.8,0.9,1,2,3,4,5,6,7,8,9,10,20,30,40,50,60,70,80,90,100,200],"labelOverlap":false,"labelExpr":"datum.value===1?'10⁰':datum.value===10?'10¹':datum.value===100?'10²':''","tickSize":{"condition":{"test":"datum.value===1||datum.value===10||datum.value===100","value":3},"value":1.5},"domain":false,"labelPadding":1,"title":"FA-DpnII","titleFontSize":9.7,"titlePadding":1}},
   "y":{"field":"y","type":"quantitative","scale":{"type":"log","domain":[0.311,196],"nice":false},"axis":{"values":[0.4,0.5,0.6,0.7,0.8,0.9,1,2,3,4,5,6,7,8,9,10,20,30,40,50,60,70,80,90,100],"labels":false,"tickSize":{"condition":{"test":"datum.value===1||datum.value===10||datum.value===100","value":3},"value":1.5},"domain":false,"title":"FA+DSG-MNase","titleFontSize":9.7,"titlePadding":1}}},
  "layer":[
   {"data":{"name":"outliers"},"transform":[{"filter":"datum.p===3"}],"mark":{"type":"square","size":9,"opacity":1},"encoding":{"color":{"field":"t","type":"nominal","scale":{"domain":["U","I"],"range":["#8f3116","#1b2f6e"]},"legend":null}}},
   {"data":{"name":"cloud"},"transform":[{"filter":"datum.p===3"}],"mark":{"type":"trail"},"encoding":{"order":{"field":"o"},"size":{"field":"w","type":"quantitative","scale":{"domain":[0,1],"range":[0,22]},"legend":null},"color":{"field":"level","type":"nominal","scale":{"domain":["L0","L1","L2","L3","L4","L5","L6"],"range":["#8f3116","#cc4a1c","#16417f","#2e70b5","#6db0db","#bfe0f0","#f4fafc"]},"legend":null}}},
   {"data":{"name":"diag"},"transform":[{"filter":"datum.p===3"}],"mark":{"type":"line","color":"#111","strokeWidth":0.9},"encoding":{"order":{"field":"o"}}}
  ],"resolve":{"scale":{"color":"independent"}}},
 {"width":62.7,"height":105,"data":{"values":[]},"mark":"text"},
 {"width":87,"height":105,"data":{"values":[{"k":"Union","lo":0,"hi":1},{"k":"Intersection","lo":0,"hi":1}]},
   "encoding":{"x":{"field":"lo","type":"quantitative","scale":{"domain":[0,1],"nice":false},"axis":{"orient":"top","offset":-38.7,"values":[0.05,0.9],"labelOverlap":false,"labelExpr":"datum.value<0.5?'Low':'High'","domain":false,"ticks":false,"labelPadding":2,"labelFontSize":10.5,"title":"Density","titleFontWeight":"bold","titleFontSize":10.5,"titlePadding":1,"titleX":38}},"x2":{"field":"hi"},"y":{"field":"k","type":"nominal","scale":{"domain":["Union","Intersection"],"paddingInner":0.42,"paddingOuter":0,"range":[38.7,63.7]},"axis":{"domain":false,"ticks":false,"labelAlign":"left","labelPadding":55,"labelFontSize":10,"title":null}}},
   "layer":[
    {"transform":[{"filter":"datum.k==='Union'"}],"mark":{"type":"rect","stroke":"#555","strokeWidth":1,"fill":{"gradient":"linear","x1":0,"y1":0,"x2":1,"y2":0,"stops":[{"offset":0,"color":"#5e1a08"},{"offset":0.25,"color":"#b33a10"},{"offset":0.45,"color":"#e8641c"},{"offset":0.7,"color":"#f8a45c"},{"offset":1,"color":"#fdeed8"}]}}},
    {"transform":[{"filter":"datum.k==='Intersection'"}],"mark":{"type":"rect","stroke":"#555","strokeWidth":1,"fill":{"gradient":"linear","x1":0,"y1":0,"x2":1,"y2":0,"stops":[{"offset":0,"color":"#0b1f66"},{"offset":0.3,"color":"#2c6aa8"},{"offset":0.55,"color":"#8cb9d8"},{"offset":0.8,"color":"#dbe9f2"},{"offset":1,"color":"#ffffff"}]}}}
   ]},

 {"width":60,"height":83,"data":{"values":[{"label":"d"}]},"mark":{"type":"text","align":"left","baseline":"middle","fontWeight":"bold","fontSize":10,"dx":1,"color":"#111"},"encoding":{"text":{"field":"label"},"x":{"datum":0,"type":"quantitative","scale":{"domain":[0,1]},"axis":null},"y":{"datum":0.518,"type":"quantitative","scale":{"domain":[1,0]},"axis":null}}},
 {"width":0.001,"height":0.001,"data":{"values":[]},"mark":"text"},{"width":0.001,"height":0.001,"data":{"values":[]},"mark":"text"},
 {"width":105,"height":83,"data":{"values":[{"label":"e"}]},"mark":{"type":"text","align":"left","baseline":"middle","fontWeight":"bold","fontSize":10,"color":"#111"},"encoding":{"text":{"field":"label"},"x":{"datum":0.419,"type":"quantitative","scale":{"domain":[0,1]},"axis":null},"y":{"datum":0.518,"type":"quantitative","scale":{"domain":[1,0]},"axis":null}}},
 {"width":0.001,"height":0.001,"data":{"values":[]},"mark":"text"},{"width":0.001,"height":0.001,"data":{"values":[]},"mark":"text"},{"width":0.001,"height":0.001,"data":{"values":[]},"mark":"text"},{"width":0.001,"height":0.001,"data":{"values":[]},"mark":"text"},

 {"width":1,"height":166,"data":{"values":[]},"mark":"text"},
 {"width":105,"height":166,"data":{"name":"hesc"},
  "encoding":{"x":{"field":"col","type":"nominal","sort":null,"scale":{"domain":["MNase","DdeI","DpnII","HindIII"],"padding":0,"range":[-1.7,169.3]},"axis":{"orient":"top","labelAngle":0,"domain":false,"ticks":false,"labelOffset":-5,"labelPadding":6,"labelFontSize":10,"title":"H1-hESC","titleFontWeight":"bold","titleFontSize":10,"titlePadding":8,"titleX":73.3}},
   "y":{"field":"row","type":"nominal","sort":null,"scale":{"domain":["FA","DSG","EGS"],"padding":0},"axis":{"domain":false,"ticks":false,"labelFontWeight":"bold","labelColor":"#111","labelFontSize":10.5,"labelAlign":"center","labelPadding":18,"title":null}}},
  "layer":[
   {"mark":{"type":"rect"},"encoding":{"color":{"field":"v","type":"quantitative","scale":{"domain":[1.87,1.93,1.95,1.98,2.13,2.17,2.19,2.23,2.42,2.47,2.54],"range":["#fef2e6","#feeedd","#fde7d2","#fcdfc0","#fbab6a","#f6954a","#f69345","#f2852f","#b9411f","#a23620","#7a2a14"]},"legend":null}}},
   {"mark":{"type":"text","fontSize":9},"encoding":{"text":{"field":"v","type":"quantitative"},"color":{"condition":{"test":"datum.v>=2.23","value":"#ffffff"},"value":"#333333"}}}
  ]},
 {"width":0.001,"height":0.001,"data":{"values":[]},"mark":"text"},
 {"width":105,"height":166,"data":{"name":"hff"},
  "encoding":{"x":{"field":"col","type":"nominal","sort":null,"scale":{"domain":["MNase","DdeI","DpnII","HindIII"],"padding":0,"range":[59,230]},"axis":{"orient":"top","labelAngle":0,"domain":false,"ticks":false,"labelOffset":-5,"labelPadding":6,"labelFontSize":10,"title":"HFFc6","titleFontWeight":"bold","titleFontSize":10,"titlePadding":8,"titleX":129.6}},
   "y":{"field":"row","type":"nominal","sort":null,"scale":{"domain":["FA","DSG","EGS"],"padding":0},"axis":null}},
  "layer":[
   {"mark":{"type":"rect"},"encoding":{"color":{"field":"v","type":"quantitative","scale":{"domain":[1.65,1.67,1.76,1.79,1.83,1.87,1.92,2,2.05,2.53,2.56],"range":["#fff3e8","#fff3e8","#fee9d8","#fde2c6","#fde0c6","#fbd5ac","#fcc894","#fdb070","#fa9d55","#7a2a14","#7a2a14"]},"legend":null}}},
   {"mark":{"type":"text","fontSize":9},"encoding":{"text":{"field":"v","type":"quantitative"},"color":{"condition":{"test":"datum.v>=2.23","value":"#ffffff"},"value":"#333333"}}}
  ]},
 {"width":0.001,"height":0.001,"data":{"values":[]},"mark":"text"},{"width":0.001,"height":0.001,"data":{"values":[]},"mark":"text"},{"width":0.001,"height":0.001,"data":{"values":[]},"mark":"text"},
 {"width":87,"height":166,"layer":[
   {"data":{"values":[{"lo":2.545,"hi":1.874}]},"mark":{"type":"rect","stroke":"#888","strokeWidth":1,"fill":{"gradient":"linear","x1":0,"y1":0,"x2":1,"y2":0,"stops":[{"offset":0,"color":"#6d2410"},{"offset":0.22,"color":"#b0391c"},{"offset":0.4,"color":"#ee6a22"},{"offset":0.6,"color":"#fca55c"},{"offset":0.82,"color":"#fde2c2"},{"offset":1,"color":"#fff8ef"}]}},"encoding":{"x":{"field":"lo","type":"quantitative","scale":{"domain":[2.545,1.874],"nice":false,"range":[-1.7,86.3]},"axis":{"orient":"top","offset":-50.7,"values":[2.4,2.25,2.1,1.95],"labels":false,"domain":false,"tickSize":3,"tickColor":"#333","title":"Loop Strength","titleFontWeight":"bold","titleFontSize":10.5,"titlePadding":20,"titleX":38}},"x2":{"field":"hi"},"y":{"datum":0.305,"type":"quantitative","scale":{"domain":[1,0]},"axis":null},"y2":{"datum":0.383}}},
   {"data":{"values":[{"v":2.4}]},"mark":{"type":"text","fontSize":10,"color":"#333","dx":-14},"encoding":{"x":{"field":"v","type":"quantitative"},"y":{"datum":0.228},"text":{"field":"v","type":"quantitative","format":".2f"}}},
   {"data":{"values":[{"v":2.25}]},"mark":{"type":"text","fontSize":10,"color":"#333","dx":-5},"encoding":{"x":{"field":"v","type":"quantitative"},"y":{"datum":0.228},"text":{"field":"v","type":"quantitative","format":".2f"}}},
   {"data":{"values":[{"v":2.1}]},"mark":{"type":"text","fontSize":10,"color":"#333"},"encoding":{"x":{"field":"v","type":"quantitative"},"y":{"datum":0.228},"text":{"field":"v","type":"quantitative","format":".2f"}}},
   {"data":{"values":[{"v":1.95}]},"mark":{"type":"text","fontSize":10,"color":"#333","dx":3},"encoding":{"x":{"field":"v","type":"quantitative"},"y":{"datum":0.228},"text":{"field":"v","type":"quantitative","format":".2f"}}}
 ]}
]
}
